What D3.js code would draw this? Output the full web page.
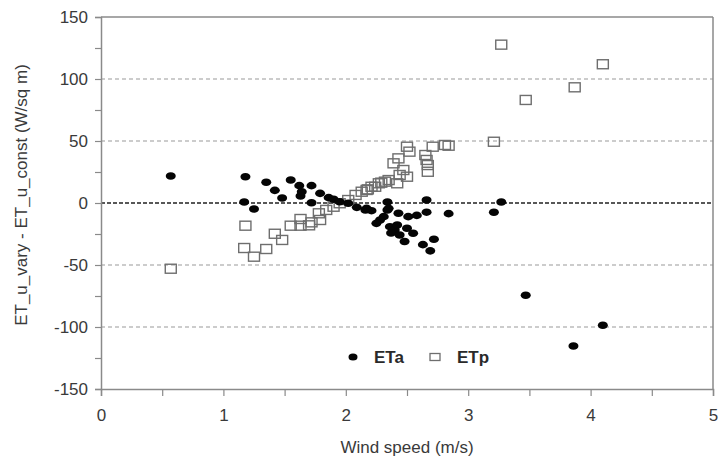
<!DOCTYPE html>
<html>
<head>
<meta charset="utf-8">
<script src="https://cdn.jsdelivr.net/npm/d3@7"></script>
<style>
  body { margin: 0; background: #fff; }
  svg { font-family: "Liberation Sans", Arial, sans-serif; }
</style>
</head>
<body>
<svg id="chart" width="720" height="461"></svg>
<script>
// ETa (filled dots): wind speed, difference
var etaX = [0.57, 1.18, 1.17, 1.25, 1.35, 1.42, 1.48, 1.55, 1.62, 1.63, 1.72, 1.72, 1.64, 1.79, 1.86, 1.90,
            1.95, 2.02, 2.09, 2.16, 2.21, 2.34, 2.34, 2.31, 2.28, 2.25, 2.43, 2.51, 2.58, 2.66, 2.66, 2.84,
            2.36, 2.40, 2.42, 2.37, 2.44, 2.50, 2.55, 2.48, 2.63, 2.72, 2.69, 3.21, 3.27, 3.47, 4.10, 3.86,
            2.17, 2.35]
var etaY = [21.8, 21.2, 0.8, -4.8, 16.7, 10.2, 4.0, 18.5, 14.0, 5.6, 14.0, 0.2, 9.1, 7.8, 4.3, 3.0,
            1.0, -0.2, -3.5, -5.6, -6.2, 0.8, -5.6, -11.0, -13.7, -16.4, -8.3, -11.0, -10.0, 2.4, -7.4, -8.6,
            -19.1, -21.8, -17.7, -24.2, -25.8, -20.4, -24.4, -31.0, -33.6, -29.2, -38.6, -7.5, 0.8, -74.4, -98.6, -115.3,
            -4.3, -4.3]

// ETp (open squares)
var etpX = [0.57, 1.18, 1.17, 1.25, 1.35, 1.42, 1.48, 1.55, 1.63, 1.63, 1.72, 1.79, 1.78, 1.84, 1.90, 1.95,
            2.02, 2.08, 2.13, 2.18, 2.24, 2.29, 2.35, 2.42, 2.44, 2.50, 2.39, 2.43, 2.50, 2.52, 2.47, 2.66,
            2.67, 2.67, 2.71, 2.84, 3.21, 3.27, 3.47, 3.87, 4.10, 2.32, 2.27, 2.21, 2.17, 2.65, 2.81, 1.70]
var etpY = [-53.0, -18.3, -36.3, -43.3, -37.1, -24.8, -29.8, -18.3, -12.9, -18.3, -15.6, -13.7, -8.3, -5.6, -3.0, -0.2,
            2.4, 6.5, 9.1, 11.0, 13.1, 16.4, 18.5, 15.9, 22.6, 21.2, 32.0, 36.0, 45.4, 41.4, 26.6, 34.7,
            30.6, 25.2, 45.4, 46.2, 49.4, 127.7, 83.1, 93.3, 111.9, 17.2, 15.9, 13.1, 10.5, 38.7, 46.8, -18.0]

var xTicks = [0, 1, 2, 3, 4, 5]
var yTicks = [-150, -100, -50, 0, 50, 100, 150]
var gridValues = [-100, -50, 50, 100]
var legendNames = ["ETa", "ETp"]

var margin = { top: 17, right: 7, bottom: 72, left: 101 }
var W = 720, H = 461

var svg = d3.select("#chart")

var xScale = d3.scaleLinear().domain([0, 5]).range([margin.left, W - margin.right])
var yScale = d3.scaleLinear().domain([-150, 150]).range([H - margin.bottom, margin.top])

var axisColor = "#8a8a8a"
var textColor = "#3a3a3a"

// dashed grid lines
svg.selectAll(".grid")
   .data(gridValues)
   .join("line")
   .attr("x1", xScale(0))
   .attr("x2", xScale(5))
   .attr("y1", d => yScale(d))
   .attr("y2", d => yScale(d))
   .attr("stroke", "#9a9a9a")
   .attr("stroke-width", 1.2)
   .attr("stroke-dasharray", "4,3")

// zero line
svg.append("line")
   .attr("x1", xScale(0))
   .attr("x2", xScale(5))
   .attr("y1", yScale(0))
   .attr("y2", yScale(0))
   .attr("stroke", "#222")
   .attr("stroke-width", 1.5)
   .attr("stroke-dasharray", "4,2")

// frame: top and right
svg.append("line")
   .attr("x1", xScale(0)).attr("x2", xScale(5))
   .attr("y1", yScale(150)).attr("y2", yScale(150))
   .attr("stroke", axisColor).attr("stroke-width", 1.5)
svg.append("line")
   .attr("x1", xScale(5)).attr("x2", xScale(5))
   .attr("y1", yScale(150)).attr("y2", yScale(-150))
   .attr("stroke", axisColor).attr("stroke-width", 1.5)

// axes
var xAxisGen = d3.axisBottom(xScale)
                 .tickValues(d3.range(0, 5.01, 0.5))
                 .tickSize(7)
                 .tickFormat(d => xTicks.includes(d) ? d : "")
var xAxis = svg.append("g")
               .attr("transform", `translate(0,${yScale(-150)})`)
               .call(xAxisGen)

var yAxisGen = d3.axisLeft(yScale)
                 .tickValues(d3.range(-150, 151, 25))
                 .tickSize(6)
                 .tickFormat(d => yTicks.includes(d) ? d : "")
var yAxis = svg.append("g")
               .attr("transform", `translate(${xScale(0)},0)`)
               .call(yAxisGen)

;[xAxis, yAxis].forEach(function(g) {
    g.select(".domain").attr("stroke", axisColor).attr("stroke-width", 1.5)
    g.selectAll(".tick line").attr("stroke", axisColor).attr("stroke-width", 1.2)
    g.selectAll(".tick text")
     .attr("fill", textColor)
     .style("font-size", "17px")
     .style("font-family", "Liberation Sans, Arial, sans-serif")
})
xAxis.selectAll(".tick text").attr("dy", "0.95em").attr("y", 16)
yAxis.selectAll(".tick text").attr("x", -13)

// ETp squares
var etp = etpX.map((x, i) => ({ x: x, y: etpY[i] }))
svg.selectAll(".etp")
   .data(etp)
   .join("rect")
   .attr("x", d => xScale(d.x) - 5.5)
   .attr("y", d => yScale(d.y) - 4.5)
   .attr("width", 11)
   .attr("height", 9)
   .attr("fill", "none")
   .attr("stroke", "#6e6e6e")
   .attr("stroke-width", 1.4)

// ETa dots
var eta = etaX.map((x, i) => ({ x: x, y: etaY[i] }))
svg.selectAll(".eta")
   .data(eta)
   .join("ellipse")
   .attr("cx", d => xScale(d.x))
   .attr("cy", d => yScale(d.y))
   .attr("rx", 5)
   .attr("ry", 3.8)
   .attr("fill", "#050505")

// legend
var legend = svg.append("g").attr("transform", "translate(353,357)")
legend.append("ellipse").attr("cx", 0).attr("cy", 0).attr("rx", 4.5).attr("ry", 3.5).attr("fill", "#050505")
legend.append("text").attr("x", 21).attr("y", 6).text(legendNames[0])
      .attr("fill", "#2a2a2a").style("font-size", "17px").style("font-weight", "bold")
legend.append("rect").attr("x", 77).attr("y", -3.5).attr("width", 10).attr("height", 7)
      .attr("fill", "none").attr("stroke", "#6e6e6e").attr("stroke-width", 1.3)
legend.append("text").attr("x", 104).attr("y", 6).text(legendNames[1])
      .attr("fill", "#2a2a2a").style("font-size", "17px").style("font-weight", "bold")

// axis titles
svg.append("text")
   .attr("text-anchor", "middle")
   .attr("x", (xScale(0) + xScale(5)) / 2)
   .attr("y", 453)
   .attr("fill", textColor)
   .style("font-size", "17px")
   .text("Wind speed (m/s)")

svg.append("text")
   .attr("text-anchor", "middle")
   .attr("transform", `translate(27,${yScale(0) - 8}) rotate(-90)`)
   .attr("fill", textColor)
   .style("font-size", "17px")
   .text("ET_u_vary - ET_u_const (W/sq m)")
</script>
</body>
</html>
